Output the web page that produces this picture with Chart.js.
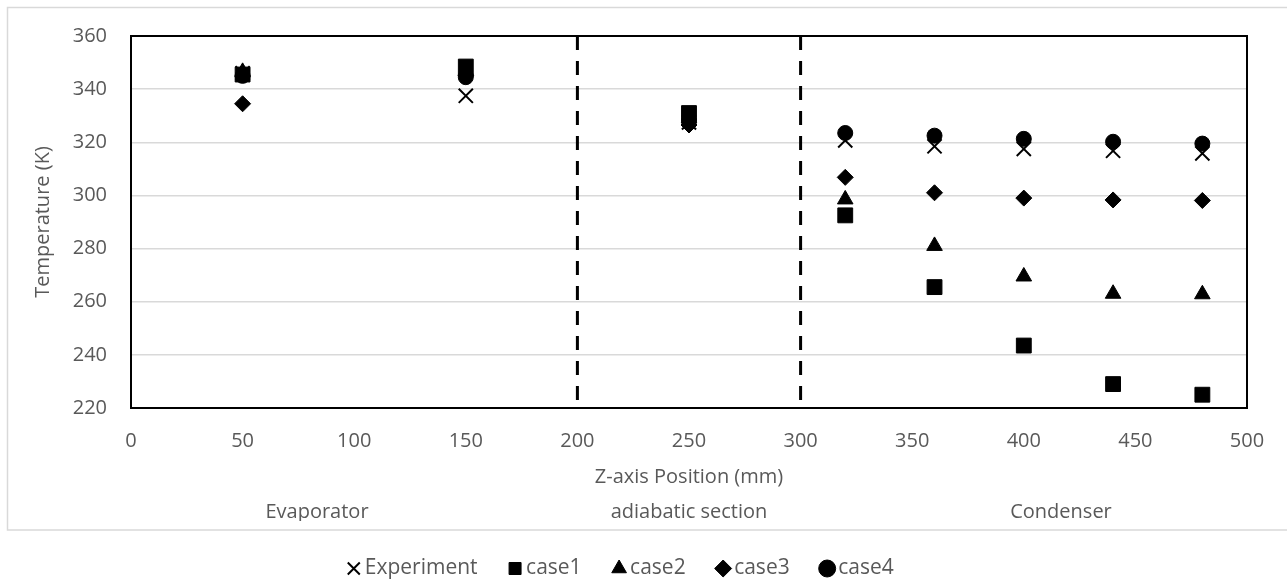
<!DOCTYPE html>
<html lang="en">
<head>
    <meta charset="UTF-8">
    <title>Temperature along Z-axis</title>
    <script src="https://cdn.jsdelivr.net/npm/chart.js"></script>
    <style>
        body {
            margin: 0;
            background: #ffffff;
        }
        .chart-container {
            width: 1287px;
            height: 579px;
        }
    </style>
</head>
<body>
    <div class="chart-container">
        <canvas id="tempChart"></canvas>
    </div>
    <script>
        // probe positions along the pipe (mm) and temperatures (K)
        const positions = [50, 150, 250, 320, 360, 400, 440, 480];
        const experiment = [346, 337.5, 327.5, 320.7, 318.5, 317.5, 316.8, 315.8];
        const case1 = [345.5, 348.5, 331, 292.5, 265.5, 243.5, 229, 225];
        const case2 = [346.5, 347, 329, 298.5, 281, 269.5, 263, 262.8];
        const case3 = [334.5, 345, 326.5, 306.8, 301, 299, 298.3, 298.1];
        const case4 = [345, 344.5, 328, 323.5, 322.5, 321.3, 320.2, 319.5];

        const sectionNames = ['Evaporator', 'adiabatic section', 'Condenser'];
        const sectionBounds = [200, 300];
        const xRange = [0, 500, 50];
        const yRange = [220, 360, 20];

        const textColor = '#595959';
        const fontFamily = "'Open Sans', sans-serif";
        const legendGap = 37;

        function points(values) {
            return positions.map((x, i) => ({ x: x, y: values[i] }));
        }

        function series(label, values, style, radius, width) {
            return {
                label: label,
                data: points(values),
                pointStyle: style,
                pointRadius: radius,
                pointHoverRadius: radius,
                borderWidth: width,
                borderColor: '#000000',
                backgroundColor: '#000000'
            };
        }

        // grey outer frame, plot border and the dashed section dividers
        const framePlugin = {
            id: 'frame',
            beforeDraw(chart) {
                const ctx = chart.ctx;
                const bottom = chart.scales.x2.bottom + 9;
                ctx.save();
                ctx.strokeStyle = '#d9d9d9';
                ctx.lineWidth = 1.5;
                ctx.strokeRect(7.5, 7.5, chart.width, bottom - 7.5);
                ctx.restore();
            },
            beforeDatasetsDraw(chart) {
                const { ctx, chartArea, scales: { x } } = chart;
                ctx.save();
                ctx.strokeStyle = '#000000';
                ctx.lineWidth = 3;
                ctx.setLineDash([14, 11]);
                sectionBounds.forEach(v => {
                    const px = x.getPixelForValue(v);
                    ctx.beginPath();
                    ctx.moveTo(px, chartArea.top);
                    ctx.lineTo(px, chartArea.bottom);
                    ctx.stroke();
                });
                ctx.setLineDash([]);
                ctx.lineWidth = 2;
                ctx.strokeRect(chartArea.left, chartArea.top,
                    chartArea.right - chartArea.left, chartArea.bottom - chartArea.top);
                ctx.restore();
            }
        };

        const ctx = document.getElementById('tempChart').getContext('2d');
        new Chart(ctx, {
            type: 'scatter',
            data: {
                datasets: [
                    series('Experiment', experiment, 'crossRot', 10, 2),
                    series('case1', case1, 'rect', 10.5, 1),
                    series('case2', case2, 'triangle', 9, 1),
                    series('case3', case3, 'rectRot', 8, 1),
                    series('case4', case4, 'circle', 7.5, 1)
                ]
            },
            options: {
                responsive: true,
                maintainAspectRatio: false,
                animation: false,
                layout: {
                    padding: { top: 34, left: 0, right: 40, bottom: 0 }
                },
                plugins: {
                    tooltip: { enabled: false },
                    legend: {
                        position: 'bottom',
                        maxHeight: 58,
                        labels: {
                            usePointStyle: true,
                            boxWidth: 1,
                            boxHeight: 12,
                            padding: legendGap,
                            color: textColor,
                            font: { family: fontFamily, size: 21 }
                        }
                    }
                },
                scales: {
                    x: {
                        type: 'linear',
                        position: 'bottom',
                        min: xRange[0],
                        max: xRange[1],
                        grid: { display: false },
                        border: { display: false },
                        ticks: {
                            stepSize: xRange[2],
                            padding: 13,
                            color: textColor,
                            font: { family: fontFamily, size: 20 }
                        },
                        title: {
                            display: true,
                            text: 'Z-axis Position (mm)',
                            color: textColor,
                            font: { family: fontFamily, size: 20 },
                            padding: { top: 0, bottom: 0 }
                        },
                        afterFit: scale => { scale.height = 81; }
                    },
                    x2: {
                        type: 'category',
                        position: 'bottom',
                        weight: 1,
                        labels: sectionNames,
                        offset: true,
                        grid: { display: false },
                        border: { display: false },
                        ticks: {
                            padding: 3,
                            color: textColor,
                            font: { family: fontFamily, size: 20 }
                        },
                        afterFit: scale => { scale.height = 32; }
                    },
                    y: {
                        min: yRange[0],
                        max: yRange[1],
                        grid: {
                            color: '#d9d9d9',
                            lineWidth: 1.5,
                            drawTicks: false
                        },
                        border: { display: false },
                        ticks: {
                            stepSize: yRange[2],
                            padding: 24,
                            color: textColor,
                            font: { family: fontFamily, size: 20 }
                        },
                        title: {
                            display: true,
                            text: 'Temperature (K)',
                            color: textColor,
                            font: { family: fontFamily, size: 20 },
                            padding: { top: 31, bottom: 0 }
                        },
                        afterFit: scale => { scale.width = 131; }
                    }
                }
            },
            plugins: [framePlugin]
        });
    </script>
</body>
</html>
